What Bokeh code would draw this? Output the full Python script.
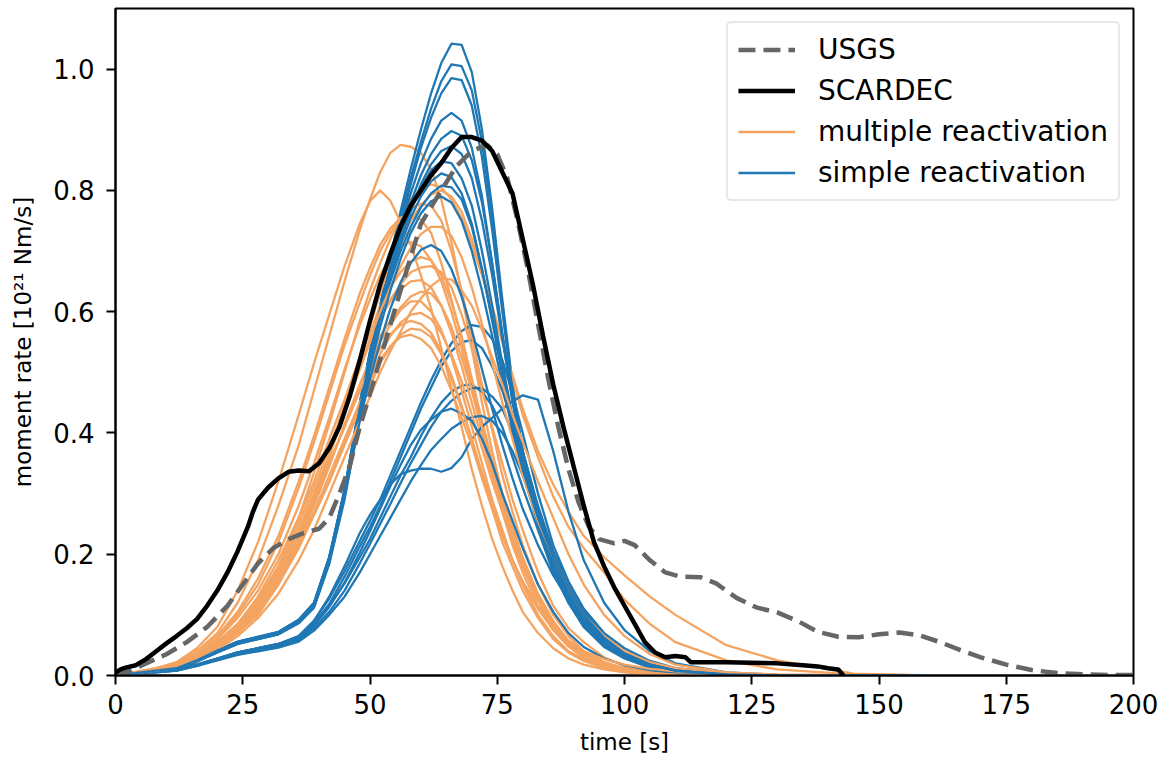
from bokeh.plotting import figure
from bokeh.models import Range1d, FixedTicker, PrintfTickFormatter, Legend, LegendItem
from bokeh.embed import file_html
from bokeh.resources import INLINE

# ---------------- data ----------------
# common time grid (s) for the simulated moment-rate functions
T = [0, 4, 8, 12, 16, 20, 24, 28, 32, 36, 39, 42, 45, 48, 50, 52, 54, 56, 58, 60, 62, 64, 66, 68,
     70, 72, 74, 76, 78, 80, 83, 86, 89, 92, 96, 100, 105, 110, 120, 130, 145, 160]

# multiple reactivation (orange)
O1 = [0, 0.006, 0.012, 0.02, 0.04, 0.07, 0.12, 0.19, 0.28, 0.38, 0.47, 0.56, 0.65, 0.735, 0.785, 0.83, 0.862, 0.875, 0.872, 0.862, 0.835, 0.785, 0.715, 0.63, 0.54, 0.45, 0.37, 0.3, 0.24, 0.19, 0.13, 0.085, 0.055, 0.035, 0.02, 0.012, 0.006, 0.003, 0.001, 0, 0, 0]
O2 = [0, 0.006, 0.012, 0.022, 0.045, 0.08, 0.14, 0.22, 0.32, 0.43, 0.515, 0.595, 0.675, 0.745, 0.782, 0.80, 0.783, 0.748, 0.71, 0.66, 0.605, 0.54, 0.475, 0.41, 0.34, 0.28, 0.225, 0.18, 0.14, 0.105, 0.07, 0.045, 0.028, 0.018, 0.01, 0.005, 0.002, 0.001, 0, 0, 0, 0]
O3 = [0, 0.005, 0.01, 0.016, 0.03, 0.05, 0.08, 0.12, 0.18, 0.26, 0.335, 0.415, 0.5, 0.585, 0.635, 0.68, 0.72, 0.755, 0.785, 0.803, 0.81, 0.805, 0.785, 0.755, 0.71, 0.66, 0.605, 0.55, 0.495, 0.44, 0.37, 0.315, 0.27, 0.23, 0.195, 0.165, 0.13, 0.1, 0.05, 0.025, 0.003, 0]
O4 = [0, 0.005, 0.01, 0.015, 0.028, 0.045, 0.07, 0.1, 0.15, 0.22, 0.285, 0.36, 0.445, 0.525, 0.578, 0.63, 0.678, 0.718, 0.75, 0.775, 0.793, 0.80, 0.79, 0.765, 0.72, 0.665, 0.61, 0.55, 0.49, 0.43, 0.36, 0.295, 0.245, 0.21, 0.17, 0.125, 0.085, 0.055, 0.025, 0.01, 0.002, 0]
O5 = [0, 0.005, 0.011, 0.018, 0.035, 0.06, 0.1, 0.15, 0.22, 0.31, 0.385, 0.465, 0.545, 0.615, 0.66, 0.70, 0.73, 0.752, 0.77, 0.778, 0.775, 0.75, 0.7, 0.635, 0.56, 0.48, 0.405, 0.33, 0.27, 0.215, 0.15, 0.1, 0.065, 0.04, 0.022, 0.012, 0.006, 0.003, 0.001, 0, 0, 0]
O6 = [0, 0.005, 0.011, 0.02, 0.04, 0.065, 0.105, 0.16, 0.23, 0.32, 0.395, 0.475, 0.555, 0.63, 0.672, 0.71, 0.737, 0.755, 0.76, 0.752, 0.73, 0.68, 0.62, 0.555, 0.48, 0.405, 0.34, 0.28, 0.225, 0.18, 0.125, 0.08, 0.052, 0.035, 0.02, 0.01, 0.005, 0.002, 0, 0, 0, 0]
O7 = [0, 0.005, 0.01, 0.018, 0.035, 0.06, 0.095, 0.14, 0.2, 0.28, 0.35, 0.425, 0.505, 0.578, 0.62, 0.66, 0.69, 0.708, 0.715, 0.708, 0.685, 0.65, 0.6, 0.54, 0.47, 0.405, 0.34, 0.28, 0.225, 0.18, 0.125, 0.08, 0.05, 0.035, 0.02, 0.01, 0.005, 0.002, 0, 0, 0, 0]
O8 = [0, 0.005, 0.01, 0.017, 0.032, 0.055, 0.085, 0.13, 0.19, 0.26, 0.32, 0.39, 0.455, 0.525, 0.565, 0.61, 0.64, 0.665, 0.683, 0.69, 0.685, 0.66, 0.615, 0.56, 0.49, 0.42, 0.355, 0.3, 0.245, 0.195, 0.135, 0.09, 0.057, 0.038, 0.02, 0.011, 0.005, 0.002, 0, 0, 0, 0]
O9 = [0, 0.004, 0.009, 0.015, 0.03, 0.05, 0.08, 0.12, 0.17, 0.24, 0.3, 0.365, 0.435, 0.505, 0.55, 0.59, 0.62, 0.645, 0.665, 0.673, 0.675, 0.665, 0.64, 0.595, 0.54, 0.47, 0.41, 0.35, 0.29, 0.24, 0.17, 0.115, 0.078, 0.055, 0.03, 0.016, 0.008, 0.004, 0.001, 0, 0, 0]
O10 = [0, 0.005, 0.01, 0.016, 0.03, 0.052, 0.082, 0.125, 0.18, 0.25, 0.31, 0.375, 0.445, 0.51, 0.55, 0.59, 0.617, 0.637, 0.65, 0.652, 0.64, 0.61, 0.565, 0.51, 0.45, 0.39, 0.33, 0.27, 0.215, 0.17, 0.115, 0.075, 0.048, 0.03, 0.016, 0.008, 0.004, 0.002, 0, 0, 0, 0]
O11 = [0, 0.004, 0.009, 0.015, 0.028, 0.048, 0.075, 0.11, 0.16, 0.22, 0.28, 0.345, 0.415, 0.48, 0.52, 0.56, 0.585, 0.607, 0.625, 0.633, 0.63, 0.61, 0.575, 0.525, 0.47, 0.41, 0.35, 0.29, 0.235, 0.19, 0.13, 0.088, 0.056, 0.038, 0.02, 0.01, 0.005, 0.002, 0, 0, 0, 0]
O12 = [0, 0.005, 0.01, 0.016, 0.03, 0.05, 0.078, 0.115, 0.165, 0.23, 0.285, 0.35, 0.41, 0.47, 0.51, 0.55, 0.578, 0.603, 0.617, 0.617, 0.6, 0.57, 0.525, 0.47, 0.41, 0.35, 0.29, 0.24, 0.19, 0.15, 0.1, 0.065, 0.04, 0.027, 0.014, 0.007, 0.003, 0.001, 0, 0, 0, 0]
O13 = [0, 0.004, 0.009, 0.014, 0.026, 0.045, 0.07, 0.105, 0.15, 0.21, 0.265, 0.32, 0.385, 0.45, 0.49, 0.53, 0.56, 0.582, 0.595, 0.598, 0.588, 0.565, 0.53, 0.485, 0.43, 0.375, 0.32, 0.27, 0.22, 0.18, 0.125, 0.082, 0.053, 0.036, 0.019, 0.01, 0.005, 0.002, 0, 0, 0, 0]
O14 = [0, 0.005, 0.01, 0.017, 0.032, 0.055, 0.085, 0.125, 0.175, 0.24, 0.295, 0.35, 0.41, 0.47, 0.505, 0.54, 0.563, 0.578, 0.585, 0.58, 0.565, 0.535, 0.495, 0.445, 0.39, 0.33, 0.275, 0.22, 0.18, 0.14, 0.095, 0.06, 0.038, 0.024, 0.012, 0.006, 0.003, 0.001, 0, 0, 0, 0]
O15 = [0, 0.004, 0.009, 0.015, 0.028, 0.048, 0.075, 0.11, 0.155, 0.215, 0.265, 0.32, 0.38, 0.44, 0.478, 0.515, 0.542, 0.562, 0.572, 0.57, 0.558, 0.53, 0.49, 0.44, 0.39, 0.335, 0.285, 0.235, 0.19, 0.155, 0.11, 0.075, 0.048, 0.03, 0.016, 0.008, 0.004, 0.002, 0.001, 0, 0, 0]
O16 = [0, 0.005, 0.01, 0.016, 0.03, 0.05, 0.078, 0.115, 0.16, 0.22, 0.27, 0.33, 0.39, 0.45, 0.485, 0.52, 0.543, 0.558, 0.562, 0.555, 0.54, 0.51, 0.47, 0.425, 0.38, 0.325, 0.275, 0.23, 0.19, 0.155, 0.115, 0.082, 0.058, 0.04, 0.027, 0.018, 0.011, 0.007, 0.004, 0.002, 0.001, 0]
O17 = [0, 0.004, 0.009, 0.015, 0.028, 0.047, 0.073, 0.11, 0.16, 0.23, 0.29, 0.36, 0.435, 0.51, 0.555, 0.6, 0.64, 0.675, 0.705, 0.728, 0.74, 0.74, 0.725, 0.69, 0.64, 0.58, 0.515, 0.45, 0.39, 0.33, 0.255, 0.195, 0.145, 0.1, 0.065, 0.04, 0.022, 0.012, 0.004, 0, 0, 0]
O18 = [0, 0.004, 0.008, 0.013, 0.025, 0.042, 0.065, 0.095, 0.135, 0.19, 0.24, 0.3, 0.36, 0.42, 0.46, 0.5, 0.535, 0.567, 0.6, 0.622, 0.642, 0.655, 0.653, 0.635, 0.61, 0.57, 0.525, 0.48, 0.43, 0.385, 0.32, 0.26, 0.2, 0.15, 0.1, 0.065, 0.035, 0.018, 0.005, 0.001, 0, 0]
multiple = [O1, O2, O3, O4, O5, O6, O7, O8, O9, O10, O11, O12, O13, O14, O15, O16, O17, O18]

# simple reactivation (blue)
B1 = [0, 0.004, 0.008, 0.01, 0.024, 0.04, 0.054, 0.062, 0.07, 0.088, 0.115, 0.19, 0.3, 0.445, 0.53, 0.61, 0.69, 0.765, 0.835, 0.9, 0.96, 1.01, 1.042, 1.04, 0.995, 0.9, 0.77, 0.62, 0.48, 0.37, 0.26, 0.18, 0.125, 0.085, 0.05, 0.03, 0.015, 0.007, 0.002, 0, 0, 0]
B2 = [0, 0.004, 0.008, 0.011, 0.025, 0.041, 0.055, 0.063, 0.071, 0.09, 0.118, 0.195, 0.305, 0.45, 0.535, 0.61, 0.685, 0.755, 0.82, 0.88, 0.935, 0.98, 1.008, 1.005, 0.965, 0.88, 0.755, 0.61, 0.475, 0.365, 0.255, 0.175, 0.12, 0.08, 0.047, 0.028, 0.013, 0.006, 0.002, 0, 0, 0]
B3 = [0, 0.004, 0.007, 0.01, 0.023, 0.038, 0.052, 0.06, 0.068, 0.086, 0.112, 0.185, 0.295, 0.44, 0.525, 0.6, 0.675, 0.745, 0.81, 0.87, 0.92, 0.96, 0.985, 0.982, 0.94, 0.855, 0.735, 0.6, 0.47, 0.365, 0.26, 0.18, 0.125, 0.085, 0.05, 0.03, 0.014, 0.006, 0.002, 0, 0, 0]
B4 = [0, 0.004, 0.008, 0.011, 0.024, 0.04, 0.054, 0.062, 0.07, 0.089, 0.117, 0.192, 0.302, 0.445, 0.53, 0.605, 0.675, 0.74, 0.795, 0.845, 0.885, 0.915, 0.928, 0.915, 0.87, 0.79, 0.68, 0.56, 0.45, 0.36, 0.265, 0.19, 0.135, 0.09, 0.055, 0.032, 0.016, 0.007, 0.002, 0, 0, 0]
B5 = [0, 0.004, 0.008, 0.012, 0.026, 0.042, 0.056, 0.064, 0.072, 0.092, 0.12, 0.196, 0.307, 0.45, 0.533, 0.605, 0.67, 0.73, 0.78, 0.825, 0.86, 0.885, 0.898, 0.89, 0.85, 0.78, 0.68, 0.565, 0.46, 0.37, 0.275, 0.2, 0.145, 0.1, 0.06, 0.036, 0.018, 0.008, 0.002, 0, 0, 0]
B6 = [0, 0.004, 0.007, 0.011, 0.024, 0.039, 0.053, 0.061, 0.069, 0.088, 0.115, 0.19, 0.3, 0.44, 0.525, 0.6, 0.665, 0.72, 0.77, 0.81, 0.843, 0.865, 0.873, 0.86, 0.82, 0.75, 0.66, 0.555, 0.455, 0.37, 0.28, 0.205, 0.15, 0.105, 0.065, 0.038, 0.019, 0.009, 0.003, 0, 0, 0]
B7 = [0, 0.004, 0.008, 0.012, 0.025, 0.041, 0.055, 0.063, 0.071, 0.091, 0.118, 0.195, 0.305, 0.445, 0.53, 0.6, 0.665, 0.72, 0.765, 0.805, 0.833, 0.848, 0.845, 0.82, 0.775, 0.7, 0.61, 0.515, 0.425, 0.345, 0.26, 0.19, 0.14, 0.1, 0.06, 0.035, 0.017, 0.008, 0.002, 0, 0, 0]
B8 = [0, 0.004, 0.008, 0.011, 0.024, 0.04, 0.054, 0.062, 0.07, 0.09, 0.116, 0.19, 0.3, 0.44, 0.52, 0.59, 0.655, 0.71, 0.755, 0.79, 0.815, 0.828, 0.822, 0.795, 0.745, 0.67, 0.585, 0.495, 0.41, 0.335, 0.25, 0.18, 0.13, 0.09, 0.055, 0.032, 0.015, 0.007, 0.002, 0, 0, 0]
B9 = [0, 0.004, 0.008, 0.012, 0.025, 0.041, 0.055, 0.063, 0.071, 0.092, 0.12, 0.194, 0.303, 0.44, 0.52, 0.59, 0.65, 0.7, 0.74, 0.772, 0.795, 0.808, 0.805, 0.785, 0.74, 0.67, 0.59, 0.505, 0.425, 0.355, 0.27, 0.2, 0.15, 0.105, 0.065, 0.038, 0.019, 0.009, 0.002, 0, 0, 0]
B10 = [0, 0.004, 0.007, 0.011, 0.023, 0.038, 0.052, 0.06, 0.068, 0.087, 0.113, 0.185, 0.29, 0.425, 0.505, 0.575, 0.635, 0.687, 0.73, 0.762, 0.782, 0.79, 0.78, 0.75, 0.7, 0.635, 0.56, 0.48, 0.405, 0.34, 0.26, 0.195, 0.145, 0.1, 0.062, 0.036, 0.018, 0.008, 0.002, 0, 0, 0]
B11 = [0, 0.004, 0.008, 0.012, 0.025, 0.041, 0.055, 0.063, 0.071, 0.091, 0.118, 0.19, 0.295, 0.42, 0.49, 0.55, 0.605, 0.648, 0.68, 0.702, 0.71, 0.7, 0.67, 0.625, 0.57, 0.505, 0.44, 0.38, 0.325, 0.275, 0.215, 0.165, 0.125, 0.09, 0.06, 0.036, 0.018, 0.008, 0.002, 0, 0, 0]
L1 = [0, 0.003, 0.006, 0.009, 0.018, 0.028, 0.038, 0.045, 0.052, 0.065, 0.09, 0.127, 0.172, 0.222, 0.255, 0.29, 0.33, 0.37, 0.41, 0.45, 0.487, 0.52, 0.548, 0.568, 0.578, 0.575, 0.555, 0.52, 0.465, 0.4, 0.3, 0.215, 0.155, 0.11, 0.07, 0.045, 0.024, 0.012, 0.004, 0.001, 0, 0]
L2 = [0, 0.003, 0.006, 0.008, 0.017, 0.027, 0.036, 0.043, 0.05, 0.062, 0.085, 0.118, 0.163, 0.213, 0.245, 0.28, 0.32, 0.36, 0.4, 0.44, 0.475, 0.51, 0.535, 0.55, 0.553, 0.54, 0.51, 0.47, 0.415, 0.35, 0.265, 0.195, 0.14, 0.095, 0.06, 0.038, 0.02, 0.01, 0.003, 0.001, 0, 0]
L3 = [0, 0.003, 0.006, 0.009, 0.018, 0.028, 0.038, 0.045, 0.052, 0.063, 0.087, 0.115, 0.152, 0.195, 0.225, 0.26, 0.295, 0.33, 0.36, 0.395, 0.425, 0.45, 0.468, 0.478, 0.48, 0.468, 0.445, 0.41, 0.36, 0.31, 0.24, 0.17, 0.12, 0.08, 0.05, 0.03, 0.016, 0.008, 0.002, 0, 0, 0]
L4 = [0, 0.003, 0.005, 0.008, 0.016, 0.026, 0.035, 0.042, 0.048, 0.058, 0.078, 0.105, 0.14, 0.185, 0.217, 0.25, 0.283, 0.317, 0.35, 0.38, 0.41, 0.435, 0.453, 0.466, 0.474, 0.474, 0.46, 0.44, 0.4, 0.35, 0.27, 0.2, 0.145, 0.1, 0.065, 0.04, 0.021, 0.011, 0.003, 0.001, 0, 0]
L5 = [0, 0.003, 0.006, 0.009, 0.018, 0.028, 0.038, 0.045, 0.052, 0.065, 0.09, 0.13, 0.18, 0.235, 0.265, 0.29, 0.315, 0.332, 0.338, 0.341, 0.341, 0.336, 0.342, 0.36, 0.39, 0.41, 0.425, 0.44, 0.452, 0.462, 0.455, 0.37, 0.27, 0.19, 0.12, 0.075, 0.04, 0.02, 0.005, 0.001, 0, 0]
L6 = [0, 0.003, 0.005, 0.008, 0.016, 0.025, 0.034, 0.04, 0.046, 0.056, 0.074, 0.1, 0.13, 0.17, 0.2, 0.23, 0.26, 0.29, 0.32, 0.347, 0.372, 0.39, 0.407, 0.418, 0.426, 0.428, 0.42, 0.4, 0.37, 0.33, 0.26, 0.19, 0.135, 0.095, 0.06, 0.037, 0.02, 0.01, 0.003, 0.001, 0, 0]
L7 = [0, 0.003, 0.006, 0.009, 0.017, 0.027, 0.036, 0.043, 0.05, 0.06, 0.082, 0.113, 0.153, 0.203, 0.238, 0.275, 0.312, 0.347, 0.38, 0.405, 0.422, 0.435, 0.44, 0.432, 0.42, 0.39, 0.35, 0.3, 0.255, 0.21, 0.15, 0.105, 0.07, 0.047, 0.028, 0.017, 0.009, 0.004, 0.001, 0, 0, 0]
simple = [B1, L1, B2, L2, B3, L3, B4, L4, B5, L5, B6, L6, B7, L7, B8, B9, B10, B11]

# USGS (dashed)
usgs_t = [0, 3, 6, 10, 14, 18, 22, 25, 28, 31, 34, 37, 40, 42, 44, 46, 48, 50, 53, 56, 60, 64, 67, 70,
          73, 75, 77, 79, 81, 83, 85, 87, 89, 91, 93, 95, 98, 100, 102, 105, 108, 111, 115, 118, 122,
          126, 130, 134, 138, 142, 146, 150, 154, 158, 162, 166, 170, 175, 180, 185, 190, 195, 200]
usgs_v = [0, 0.008, 0.02, 0.035, 0.055, 0.08, 0.115, 0.15, 0.185, 0.21, 0.225, 0.235, 0.242, 0.26, 0.3,
          0.345, 0.41, 0.465, 0.55, 0.635, 0.745, 0.8, 0.84, 0.865, 0.875, 0.86, 0.82, 0.75, 0.67, 0.58,
          0.49, 0.41, 0.34, 0.285, 0.245, 0.225, 0.218, 0.222, 0.215, 0.19, 0.17, 0.163, 0.162, 0.152,
          0.128, 0.112, 0.104, 0.09, 0.072, 0.064, 0.063, 0.068, 0.071, 0.066, 0.055, 0.042, 0.03, 0.018,
          0.009, 0.004, 0.002, 0.001, 0.001]

# SCARDEC (black)
sc_t = [0, 1, 2, 4, 6, 8, 10, 12, 14, 16, 18, 20, 22, 24, 26, 27, 28, 30, 32, 34, 36, 38, 40, 42, 44,
        46, 48, 50, 52, 54, 56, 58, 60, 62, 64, 66, 68, 70, 72, 74, 76, 78, 80, 82, 84, 86, 88, 90, 92,
        94, 96, 98, 100, 102, 104, 106, 108, 110, 112, 113, 115, 120, 125, 130, 135, 138, 140, 142, 143]
sc_v = [0.005, 0.01, 0.013, 0.017, 0.027, 0.04, 0.053, 0.065, 0.078, 0.093, 0.115, 0.14, 0.17, 0.205,
        0.245, 0.27, 0.29, 0.31, 0.325, 0.336, 0.338, 0.337, 0.35, 0.375, 0.41, 0.46, 0.52, 0.585, 0.645,
        0.695, 0.74, 0.775, 0.8, 0.825, 0.845, 0.87, 0.888, 0.888, 0.882, 0.865, 0.83, 0.795, 0.72, 0.645,
        0.56, 0.48, 0.41, 0.345, 0.28, 0.22, 0.18, 0.145, 0.115, 0.085, 0.055, 0.038, 0.03, 0.032, 0.03,
        0.022, 0.022, 0.022, 0.021, 0.02, 0.017, 0.015, 0.012, 0.01, 0.0]

x_ticks = [0, 25, 50, 75, 100, 125, 150, 175, 200]
y_ticks = [0.0, 0.2, 0.4, 0.6, 0.8, 1.0]

for c in multiple + simple:
    assert len(c) == len(T)
assert len(usgs_t) == len(usgs_v) and len(sc_t) == len(sc_v)

# ---------------- figure ----------------
FONT = "DejaVu Sans"
ORANGE = "#f4a460"
BLUE = "#1f77b4"

p = figure(width=1167, height=757, output_backend="svg", toolbar_location=None,
           x_range=Range1d(0, 200), y_range=Range1d(0, 1.1),
           min_border_left=115, min_border_right=34, min_border_top=8, min_border_bottom=82)
p.grid.visible = False
p.outline_line_color = "black"
p.outline_line_width = 2
p.background_fill_color = "white"
p.border_fill_color = "white"

o_rs = []
b_rs = []
n = max(len(multiple), len(simple))
for i in range(n):
    if i < len(multiple):
        o_rs.append(p.line(T, multiple[i], line_color=ORANGE, line_width=2.3))
    if i < len(simple):
        b_rs.append(p.line(T, simple[i], line_color=BLUE, line_width=2.3))

r_usgs = p.line(usgs_t, usgs_v, line_color="#666666", line_width=4.5, line_dash="17 8")
r_sc = p.line(sc_t, sc_v, line_color="black", line_width=4.5)

for ax in (p.xaxis[0], p.yaxis[0]):
    ax.axis_line_width = 2
    ax.major_tick_line_width = 2
    ax.major_tick_out = 9
    ax.major_tick_in = 0
    ax.minor_tick_out = 0
    ax.minor_tick_in = 0
    ax.major_label_text_font = FONT
    ax.major_label_text_font_size = "26px"
    ax.major_label_text_color = "black"
    ax.axis_label_text_font = FONT
    ax.axis_label_text_font_size = "23px"
    ax.axis_label_text_font_style = "normal"
    ax.axis_label_text_color = "black"

p.xaxis.major_label_standoff = 9
p.yaxis.major_label_standoff = 12
p.xaxis.ticker = FixedTicker(ticks=x_ticks)
p.yaxis.ticker = FixedTicker(ticks=y_ticks)
p.xaxis.formatter = PrintfTickFormatter(format="%d")
p.yaxis.formatter = PrintfTickFormatter(format="%.1f")
p.xaxis.axis_label = "time [s]"
p.yaxis.axis_label = "moment rate [10²¹ Nm/s]"
p.xaxis.axis_label_standoff = 12
p.yaxis.axis_label_standoff = 14

legend = Legend(items=[
    LegendItem(label="USGS", renderers=[r_usgs]),
    LegendItem(label="SCARDEC", renderers=[r_sc]),
    LegendItem(label="multiple reactivation", renderers=[o_rs[0]]),
    LegendItem(label="simple reactivation", renderers=[b_rs[0]]),
], location="top_right")
legend.margin = 13
legend.padding = 10
legend.spacing = 8
legend.glyph_width = 57
legend.glyph_height = 33
legend.label_height = 33
legend.label_standoff = 23
legend.label_text_font = FONT
legend.label_text_font_size = "28px"
legend.label_text_color = "black"
legend.border_line_color = "#d0d0d0"
legend.border_line_width = 2
legend.background_fill_alpha = 0.85
try:
    legend.border_radius = 5
except Exception:
    pass
p.add_layout(legend, "center")

open("out.html", "w").write(file_html(p, INLINE))
